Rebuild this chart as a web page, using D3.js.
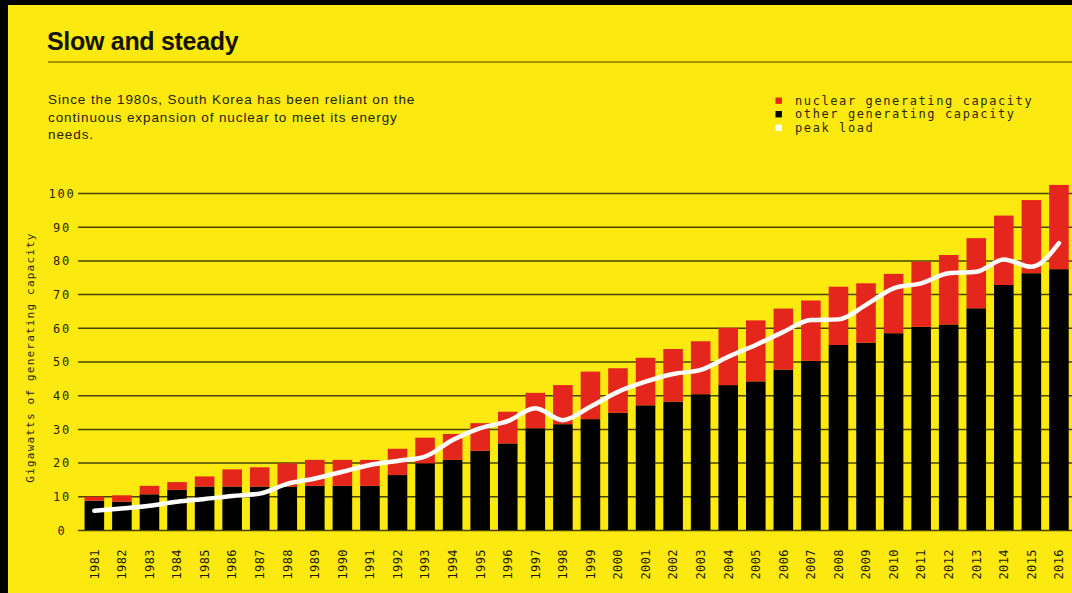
<!DOCTYPE html>
<html>
<head>
<meta charset="utf-8">
<script src="https://cdn.jsdelivr.net/npm/d3@7"></script>
<style>
  html, body { margin: 0; padding: 0; background: #000; }
  svg { display: block; }
</style>
</head>
<body>
<svg id="chart" width="1072" height="593"></svg>
<script>
// Years on the x axis
const years = ["1981","1982","1983","1984","1985","1986","1987","1988","1989","1990",
  "1991","1992","1993","1994","1995","1996","1997","1998","1999","2000",
  "2001","2002","2003","2004","2005","2006","2007","2008","2009","2010",
  "2011","2012","2013","2014","2015","2016"];

// Other (non-nuclear) generating capacity, GW
const otherCapacity = [8.7, 8.4, 10.6, 11.9, 12.9, 12.9, 12.9, 12.9, 13.1, 13.1,
  13.1, 16.3, 19.8, 20.8, 23.5, 25.7, 30.2, 31.4, 32.9, 34.8,
  37.0, 38.1, 40.3, 43.0, 44.1, 47.6, 50.2, 54.9, 55.6, 58.4,
  60.3, 61.0, 65.8, 72.7, 76.2, 77.4];

// Nuclear generating capacity, GW
const nuclearCapacity = [1.2, 1.9, 2.5, 2.3, 3.0, 5.1, 5.7, 6.9, 7.7, 7.7,
  7.7, 7.8, 7.6, 7.7, 8.2, 9.4, 10.5, 11.6, 14.1, 13.2,
  14.1, 15.6, 15.7, 17.0, 18.1, 18.1, 17.9, 17.3, 17.6, 17.6,
  19.3, 20.6, 20.8, 20.6, 21.7, 25.0];

// Peak load, GW
const peakLoad = [5.7, 6.4, 7.2, 8.4, 9.2, 10.1, 10.8, 13.7, 15.3, 17.3,
  19.3, 20.5, 21.8, 26.7, 30.2, 32.3, 36.1, 32.6, 36.6, 41.0,
  44.0, 46.3, 47.5, 51.4, 54.9, 58.8, 62.3, 62.5, 66.8, 71.7,
  73.2, 76.2, 76.6, 80.3, 78.1, 85.1];

const yTicks = [0, 10, 20, 30, 40, 50, 60, 70, 80, 90, 100];

const legendItems = [
  { label: "nuclear generating capacity", color: "#e5261c" },
  { label: "other generating capacity", color: "#000000" },
  { label: "peak load", color: "#ffffff" }
];

const YELLOW = "#fce90f";
const RED = "#e5261c";
const MONO = "'DejaVu Sans Mono', monospace";
const SANS = "'Liberation Sans', Arial, sans-serif";

const svg = d3.select("#chart");

// Yellow page with a thin dark frame on the top and left
svg.append("rect").attr("x", 8).attr("y", 5).attr("width", 1064).attr("height", 588).attr("fill", YELLOW);

// Title and rule
svg.append("text")
  .attr("x", 47).attr("y", 50)
  .attr("font-family", SANS).attr("font-weight", "bold")
  .attr("font-size", 25).attr("letter-spacing", -0.3)
  .attr("fill", "#141400")
  .text("Slow and steady");

svg.append("line")
  .attr("x1", 48).attr("x2", 1072).attr("y1", 62).attr("y2", 62)
  .attr("stroke", "#a89500").attr("stroke-width", 2);

// Subtitle
const subtitle = ["Since the 1980s, South Korea has been reliant on the",
  "continuous expansion of nuclear to meet its energy",
  "needs."];
svg.append("g").selectAll("text").data(subtitle).join("text")
  .attr("x", 48).attr("y", (d, i) => 104 + i * 17.5)
  .attr("font-family", SANS).attr("font-size", 13.5)
  .attr("letter-spacing", 0.9)
  .attr("fill", "#26230a")
  .text(d => d);

// Legend
const legend = svg.append("g");
legendItems.forEach((d, i) => {
  const cy = 100.7 + i * 13.5;
  legend.append("rect").attr("x", 775.5).attr("y", cy - 3.2)
    .attr("width", 6.4).attr("height", 6.4).attr("fill", d.color);
  legend.append("text").attr("x", 795).attr("y", cy + 3.8)
    .attr("font-family", MONO).attr("font-size", 12)
    .attr("letter-spacing", 1.6).attr("fill", "#2e2a10")
    .text(d.label);
});

// Scales
const x = d3.scaleBand().domain(years).range([80.3, 1073])
  .paddingInner(0.29).paddingOuter(0.155);
const y = d3.scaleLinear().domain([0, 100]).range([530, 193]);

// Gridlines and y labels
const yAxis = svg.append("g")
  .attr("transform", "translate(78,0)")
  .call(d3.axisLeft(y).tickValues(yTicks).tickSize(-(1072 - 78)).tickPadding(0).tickFormat(d3.format("d")));
yAxis.select(".domain").remove();
yAxis.selectAll(".tick line").attr("stroke", "#4a4300").attr("stroke-width", 1.5);
yAxis.selectAll(".tick text")
  .attr("x", -16).attr("dy", "0.36em")
  .attr("text-anchor", "middle")
  .attr("font-family", MONO).attr("font-size", 12)
  .attr("letter-spacing", 1.8)
  .attr("fill", "#2b2700");

// Y axis title
svg.append("text")
  .attr("transform", "translate(34,357.5) rotate(-90)")
  .attr("text-anchor", "middle")
  .attr("font-family", MONO).attr("font-size", 11)
  .attr("letter-spacing", 1.2)
  .attr("fill", "#2b2700")
  .text("Gigawatts of generating capacity");

// Stacked bars
const rows = years.map((yr, i) => ({ year: yr, other: otherCapacity[i], nuclear: nuclearCapacity[i], peak: peakLoad[i] }));

const bars = svg.append("g");
bars.selectAll("rect.other").data(rows).join("rect")
  .attr("class", "other")
  .attr("x", d => x(d.year)).attr("width", x.bandwidth())
  .attr("y", d => y(d.other)).attr("height", d => y(0) - y(d.other))
  .attr("fill", "#000");
bars.selectAll("rect.nuclear").data(rows).join("rect")
  .attr("class", "nuclear")
  .attr("x", d => x(d.year)).attr("width", x.bandwidth())
  .attr("y", d => y(d.other + d.nuclear)).attr("height", d => y(d.other) - y(d.other + d.nuclear))
  .attr("fill", RED);

// Peak load line
const line = d3.line()
  .x(d => x(d.year) + x.bandwidth() / 2)
  .y(d => y(d.peak))
  .curve(d3.curveMonotoneX);
svg.append("path").datum(rows)
  .attr("d", line)
  .attr("fill", "none").attr("stroke", "#fff")
  .attr("stroke-width", 4.5).attr("stroke-linecap", "round").attr("stroke-linejoin", "round");

// Year labels
const xAxis = svg.append("g")
  .attr("transform", "translate(0,530)")
  .call(d3.axisBottom(x).tickSize(0).tickPadding(0));
xAxis.select(".domain").remove();
xAxis.selectAll(".tick text")
  .attr("transform", "rotate(-90)")
  .attr("x", -19).attr("y", 0).attr("dy", "0.36em")
  .attr("text-anchor", "end")
  .attr("font-family", MONO).attr("font-size", 12)
  .attr("letter-spacing", 0.4)
  .attr("fill", "#1e1b00");
</script>
</body>
</html>
